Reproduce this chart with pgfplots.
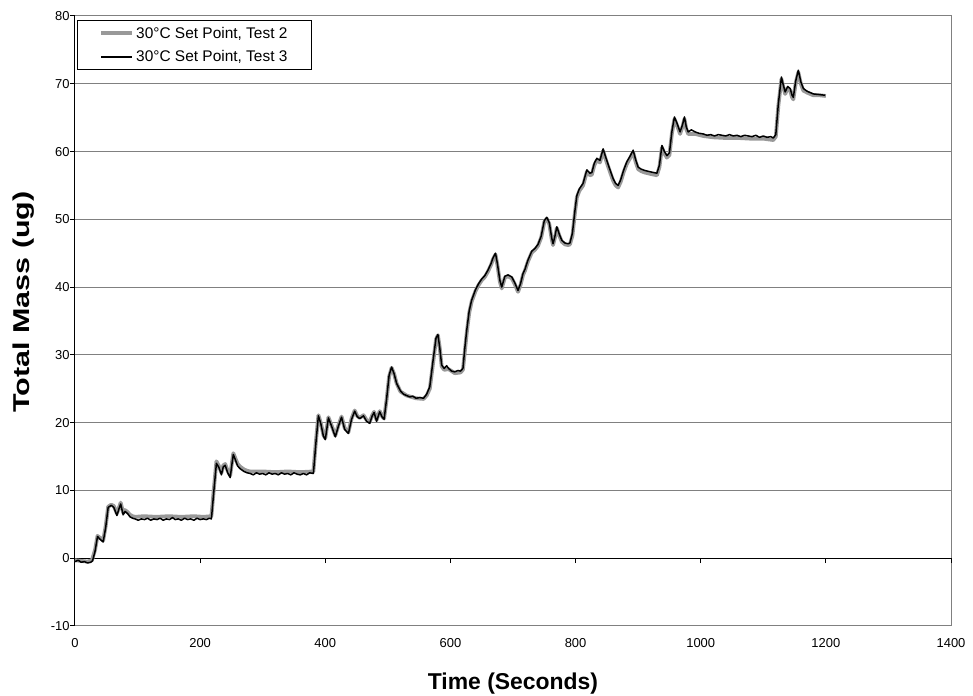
\documentclass[border=0pt]{standalone}
\usepackage{fontspec}
\setmainfont{Liberation Sans}
\usepackage{pgfplots}
\usepackage{pgfplotstable}
\pgfplotsset{compat=1.18}

\definecolor{testtwo}{RGB}{153,153,153}
\definecolor{gridgray}{RGB}{128,128,128}

% Test 3 (thin black trace)
\pgfplotstableread{
t m
0 -0.5
5 -0.3
10 -0.6
15 -0.5
20 -0.7
25 -0.6
28 -0.4
32 1.0
36 3.2
40 2.8
45 2.4
49 4.5
53 7.5
58 7.8
62 7.5
67 6.3
70 7.2
73 8.0
77 6.4
80 6.9
84 6.6
88 6.1
92 5.9
96 5.8
101 5.6
106 5.8
111 5.7
116 5.9
121 5.6
126 5.8
131 5.7
136 5.9
141 5.6
146 5.8
151 5.7
156 6.0
160 5.7
165 5.8
170 5.6
175 5.9
180 5.7
185 5.8
190 5.6
195 5.9
200 5.7
205 5.8
210 5.7
215 5.9
218 5.8
222 10.0
226 14.0
230 13.4
234 12.3
237 13.5
240 13.7
244 12.6
248 11.9
251 14.0
253 15.3
256 14.6
260 13.6
264 13.2
270 12.8
275 12.6
280 12.5
285 12.3
290 12.6
295 12.4
300 12.5
305 12.3
310 12.6
315 12.4
320 12.5
325 12.3
330 12.6
335 12.4
340 12.5
345 12.3
350 12.6
355 12.4
360 12.3
365 12.5
370 12.3
375 12.6
381 12.5
385 17.0
389 21.0
393 19.8
397 18.0
400 17.5
405 20.7
410 19.5
416 17.9
421 19.5
426 20.8
431 19.0
437 18.4
442 20.5
447 21.7
451 20.9
455 20.6
461 21.0
466 20.2
471 19.9
475 21.0
478 21.5
482 20.2
487 21.6
491 20.8
494 20.5
498 23.5
502 27.0
506 28.2
510 27.2
514 25.8
520 24.7
525 24.2
530 24.0
535 23.8
540 23.9
545 23.6
551 23.7
557 23.6
562 24.2
567 25.3
572 29.0
577 32.5
580 33.0
583 31.0
586 28.5
590 28.0
594 28.4
597 28.0
602 27.6
607 27.5
612 27.7
616 27.6
620 28.0
623 31.0
626 33.6
630 36.5
634 38.1
640 39.6
645 40.5
650 41.2
655 41.7
660 42.5
665 43.5
668 44.3
672 45.0
675 43.5
679 41.0
682 40.0
687 41.6
692 41.8
698 41.5
703 40.6
708 39.5
712 40.5
716 42.0
719 42.6
724 44.0
730 45.3
735 45.7
740 46.3
745 47.5
750 49.8
754 50.3
758 49.5
762 47.2
764 46.4
767 47.5
770 48.9
774 47.8
778 46.9
783 46.5
788 46.4
791 46.5
795 48.0
799 51.3
802 53.5
806 54.5
812 55.3
818 57.3
823 56.8
826 56.9
830 58.3
834 59.0
839 58.7
844 60.4
848 59.2
855 57.3
860 56.0
864 55.3
868 55.0
872 55.8
877 57.3
882 58.5
887 59.3
892 60.2
896 58.8
900 57.7
905 57.4
911 57.2
920 57.0
930 56.8
934 58.0
938 60.9
942 60.0
946 59.4
950 59.8
954 63.0
958 65.1
962 64.2
967 62.9
971 64.0
974 65.1
977 63.6
980 62.9
985 63.2
991 62.9
997 62.7
1004 62.6
1010 62.4
1016 62.5
1022 62.3
1028 62.5
1034 62.4
1040 62.3
1046 62.5
1052 62.3
1058 62.4
1064 62.2
1070 62.4
1076 62.3
1082 62.2
1088 62.4
1094 62.1
1100 62.3
1106 62.1
1112 62.2
1116 62.0
1120 62.5
1124 67.0
1129 71.0
1132 69.8
1135 68.8
1139 69.6
1143 69.3
1146 68.3
1148 68.0
1152 70.5
1156 72.0
1160 70.3
1164 69.3
1170 68.9
1175 68.7
1180 68.5
1190 68.4
1199 68.3
}\testthree

% Test 2 (thick grey trace)
\pgfplotstableread{
t m
0 -0.3
10 -0.4
20 -0.5
27 -0.3
32 1.2
36 3.3
40 3.0
45 2.6
49 4.7
53 7.6
58 7.9
62 7.7
67 6.6
70 7.4
73 8.2
77 6.7
80 7.1
84 6.8
88 6.4
92 6.2
96 6.1
110 6.2
130 6.1
150 6.2
170 6.1
190 6.2
205 6.1
218 6.2
222 10.3
226 14.3
230 13.6
234 12.6
237 13.7
240 13.9
244 12.9
248 12.2
251 14.2
253 15.5
256 14.8
260 13.9
264 13.5
270 13.1
275 12.9
280 12.8
300 12.8
320 12.7
340 12.8
360 12.7
381 12.8
385 17.2
389 21.1
393 19.9
397 18.2
400 17.7
405 20.8
410 19.6
416 18.1
421 19.6
426 20.9
431 19.2
437 18.6
442 20.6
447 21.8
451 21.0
455 20.7
461 21.1
466 20.4
471 20.1
475 21.1
478 21.6
482 20.4
487 21.7
491 20.9
494 20.6
498 23.4
502 26.8
506 28.1
510 27.2
514 25.8
520 24.6
530 24.0
545 23.6
557 23.5
562 24.0
567 25.0
572 28.6
577 32.3
580 32.9
583 31.0
586 28.3
590 27.8
597 27.9
607 27.3
616 27.4
620 27.8
623 30.5
626 33.2
630 36.2
634 37.9
640 39.4
645 40.3
650 41.0
655 41.5
660 42.3
665 43.3
668 44.1
672 44.8
675 43.3
679 40.8
682 39.8
687 41.4
692 41.6
698 41.3
703 40.4
708 39.3
712 40.3
716 41.8
719 42.4
724 43.8
730 45.1
735 45.5
740 46.1
745 47.3
750 49.6
754 50.1
758 49.3
762 47.0
764 46.2
767 47.3
770 48.7
774 47.6
778 46.7
783 46.3
788 46.2
791 46.3
795 47.6
799 51.0
802 53.2
806 54.2
812 55.0
818 57.0
823 56.5
826 56.6
830 58.0
834 58.7
839 58.4
844 60.1
848 58.9
855 57.0
860 55.7
864 55.0
868 54.7
872 55.5
877 57.0
882 58.2
887 59.0
892 59.9
896 58.5
900 57.4
905 57.1
911 56.9
920 56.7
930 56.5
934 57.7
938 60.6
942 59.7
946 59.1
950 59.5
954 62.7
958 64.8
962 63.9
967 62.6
971 63.7
974 64.8
977 63.3
980 62.6
991 62.6
1004 62.3
1020 62.1
1040 62.0
1060 62.0
1080 61.9
1100 61.9
1116 61.7
1120 62.2
1124 66.7
1129 70.7
1132 69.5
1135 68.5
1139 69.3
1143 69.0
1146 68.0
1148 67.7
1152 70.2
1156 71.7
1160 70.0
1164 69.0
1170 68.7
1175 68.5
1180 68.3
1190 68.3
1200 68.2
}\testtwo

\begin{document}
\begin{tikzpicture}
\pgfplotsset{
  common/.style={
    scale only axis,
    width=876bp, height=610bp,
    xmin=0, xmax=1400, ymin=-10, ymax=80,
    xtick={0,200,...,1400},
    ytick={-10,0,...,80},
    /pgf/number format/assume math mode=true,
    /pgf/number format/1000 sep={},
  }
}
% plot area: frame, grid lines and tick labels
\begin{axis}[
  common,
  axis line style={gridgray, line width=1bp},
  ymajorgrids,
  grid style={gridgray, line width=1bp},
  major tick length=0pt,
  tick label style={font=\fontsize{13}{15}\selectfont},
  xticklabel style={yshift=-9bp},
  yticklabel style={xshift=-2bp},
  xlabel={\fontsize{23}{27}\selectfont\bfseries Time (Seconds)},
  ylabel={\fontsize{23}{27}\selectfont\bfseries Total Mass (ug)},
  xlabel style={yshift=-18bp},
  ylabel style={yshift=10bp, xshift=19bp, xscale=1.33},
]
\end{axis}
% axis lines, tick marks and the two traces
\begin{axis}[
  common,
  axis x line*=middle,
  axis y line*=left,
  axis line style={black, line width=1bp},
  tick style={black, line width=1bp},
  tick align=outside,
  major tick length=5bp,
  xticklabels={}, yticklabels={},
  legend style={
    at={(rel axis cs:0.0023,0.9934)}, anchor=north west,
    draw=black, line width=0.8bp, fill=white,
    font=\fontsize{15.5}{17}\selectfont,
    inner xsep=22bp, inner ysep=4.5bp, row sep=7bp,
    cells={anchor=west},
  },
  legend image code/.code={\draw[#1] (0bp,0bp) -- (31bp,0bp);},
]
\addplot[testtwo, line width=3.8bp, line join=round] table[x=t, y=m] {\testtwo};
\addlegendentry{30°C Set Point, Test 2}
\addplot[black, line width=1.5bp, line join=round] table[x=t, y=m] {\testthree};
\addlegendentry{30°C Set Point, Test 3}
\end{axis}
\pgfresetboundingbox
\path[use as bounding box] ([xshift=-75bp,yshift=-70bp]current axis.south west) rectangle ([xshift=22bp,yshift=16bp]current axis.north east);
\end{tikzpicture}
\end{document}
